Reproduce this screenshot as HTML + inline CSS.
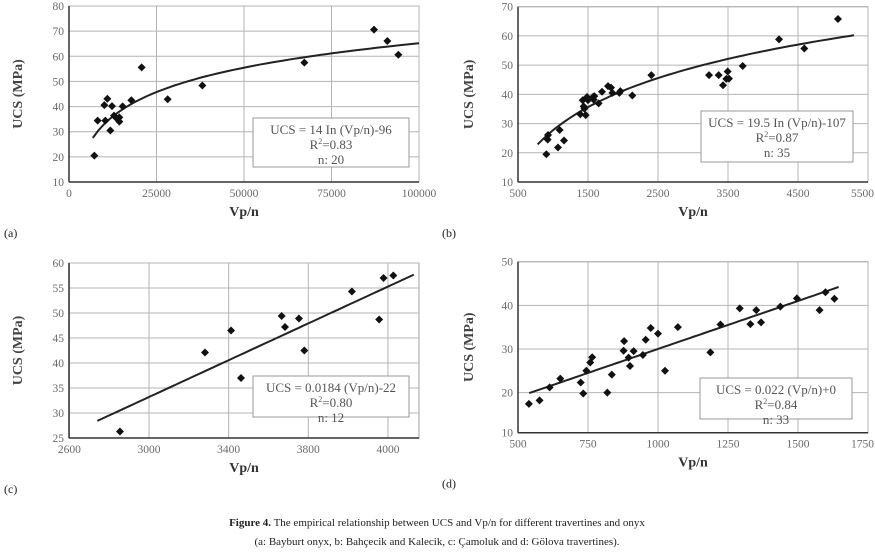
<!DOCTYPE html>
<html><head><meta charset="utf-8"><style>
body{margin:0;background:#fff;}
svg text{font-family:"Liberation Serif",serif;}
</style></head><body>
<svg id="fig" width="875" height="554" xmlns="http://www.w3.org/2000/svg"></svg>
<script>
// Panel a
const aX=[7238,8190,10381,10095,10952,12286,12857,11810,14381,14381,15333,17810,20762,28190,38095,67238,87143,90952,94095,13619];
const aY=[20.5,34.4,34.4,40.6,43.1,40.2,36.4,30.5,35.7,34.0,40.1,42.5,55.6,42.9,48.4,57.5,70.6,66.1,60.6,35.3];
const aXTicks=[0,25000,50000,75000,100000];
const aYTicks=[10,20,30,40,50,60,70,80];
const aFit=[14,-96];
// Panel b
const bX=[905,924,929,1071,1095,1157,1390,1424,1438,1448,1467,1486,1500,1571,1581,1652,1700,1786,1829,1848,1948,1962,2133,2405,3229,3367,3429,3476,3495,3514,3710,4229,4590,5071,1590];
const bY=[19.5,24.5,26.1,21.8,27.8,24.2,33.2,38.0,35.9,35.1,32.9,39.1,38.0,39.1,38.2,36.9,40.9,42.8,42.3,40.5,40.5,41.1,39.6,46.6,46.6,46.6,43.1,45.3,47.8,45.4,49.7,58.8,55.7,65.8,39.4];
const bXTicks=[500,1500,2500,3500,4500,5500];
const bYTicks=[10,20,30,40,50,60,70];
const bFit=[19.5,-107];
// Panel c
const cX=[2854,3281,3412,3462,3666,3683,3753,3780,4019,4156,4178,4227];
const cY=[26.3,42.1,46.5,37.0,49.4,47.2,48.9,42.5,54.3,48.7,57.0,57.5];
const cXTicks=[2600,3000,3400,3800,4200];
const cXLabels=["2600","3000","3400","3800","4000"];
const cYTicks=[25,30,35,40,45,50,55,60];
const cFit=[0.0184,-22];
// Panel d
const dX=[539,577,613,651,724,733,744,758,765,819,835,877,879,895,900,913,946,956,974,1000,1025,1071,1187,1223,1292,1330,1351,1368,1437,1496,1577,1598,1630];
const dY=[17.4,18.2,21.2,23.2,22.3,19.8,25.0,26.9,28.1,20.0,24.1,29.6,31.8,28.0,26.1,29.5,28.6,32.1,34.8,33.5,25.0,35.0,29.2,35.6,39.3,35.7,38.9,36.1,39.7,41.6,38.9,43.0,41.5];
const dXTicks=[500,750,1000,1250,1500,1750];
const dYTicks=[10,20,30,40,50];
const dFit=[0.022,8];

const NS="http://www.w3.org/2000/svg";
const svg=document.getElementById('fig');
function el(tag,attrs,parent,text){const e=document.createElementNS(NS,tag);for(const k in attrs)e.setAttribute(k,attrs[k]);if(text!==undefined)e.textContent=text;(parent||svg).appendChild(e);return e;}

function panel(o){
  const g=el('g',{});
  
  
  const sx=v=>o.L+(v-o.x0)/(o.x1-o.x0)*(o.R-o.L);
  const sy=v=>o.B-(v-o.y0)/(o.y1-o.y0)*(o.B-o.T);
  el('rect',{x:o.L,y:o.T,width:o.R-o.L,height:o.B-o.T,fill:'#fff',stroke:'#a0a0a0','stroke-width':1},g);
  o.xt.forEach((t,i)=>{const x=sx(t);
    const ln=el('line',{x1:x,x2:x,y1:o.T,y2:o.B,stroke:'#b4b4b4','stroke-width':1},g);
    
    
    let anchor='middle',tx0=x;
    if(x+14>875){anchor='end';tx0=874;}
    const tx=el('text',{x:tx0,y:o.B+15,'text-anchor':anchor,'font-size':11.5,fill:'#6a6a6a'},g,o.xl?o.xl[i]:String(t));
    
    });
  o.yt.forEach(t=>{const y=Math.min(sy(t),o.B);
    if(sy(t)<=o.B){const ln=el('line',{x1:o.L,x2:o.R,y1:y,y2:y,stroke:'#b4b4b4','stroke-width':1},g);
    
    }
    const tx=el('text',{x:o.L-5,y:y+4,'text-anchor':'end','font-size':11.5,fill:'#6a6a6a'},g,String(t));
    
    });
  el('line',{x1:o.L,x2:o.L,y1:o.T,y2:o.B,stroke:'#333','stroke-width':1.5},g);
  el('line',{x1:o.L,x2:o.R,y1:o.B,y2:o.B,stroke:'#333','stroke-width':1.5},g);
  let pts=[];
  for(let i=0;i<=60;i++){const v=o.f0+(o.f1-o.f0)*i/60;const y=o.log?o.fit[0]*Math.log(v)+o.fit[1]:o.fit[0]*v+o.fit[1];pts.push(sx(v).toFixed(1)+','+sy(y).toFixed(1));}
  const pl=el('polyline',{points:pts.join(' '),fill:'none',stroke:'#222','stroke-width':2},g);
  
  
  o.xs.forEach((v,i)=>{const x=sx(v),y=sy(o.ys[i]);
    const p=el('path',{d:`M${x},${y-4}L${x+4},${y}L${x},${y+4}L${x-4},${y}Z`,fill:'#111'},g);
    
    });
  const bx=el('g',{},g);
  
  
  el('rect',{x:o.bx[0],y:o.bx[1],width:o.bx[2],height:o.bx[3],fill:'#fff',stroke:'#999','stroke-width':1},bx);
  const cx=o.bx[0]+o.bx[2]/2;
  el('text',{x:cx,y:o.bx[1]+16,'text-anchor':'middle','font-size':13,fill:'#555'},bx,o.eq);
  const r=el('text',{x:cx,y:o.bx[1]+31,'text-anchor':'middle','font-size':13,fill:'#555'},bx);
  r.innerHTML='R<tspan font-size="8" dy="-5">2</tspan><tspan dy="5">='+o.r2+'</tspan>';
  el('text',{x:cx,y:o.bx[1]+46,'text-anchor':'middle','font-size':13,fill:'#555'},bx,'n: '+o.n);
  const yt=el('text',{x:o.ytx,y:(o.T+o.B)/2,'text-anchor':'middle','font-size':14,'font-weight':'bold',fill:'#444',transform:`rotate(-90 ${o.ytx} ${(o.T+o.B)/2})`},g,'UCS (MPa)');
  
  
  const xt=el('text',{x:(o.L+o.R)/2,y:o.B+34,'text-anchor':'middle','font-size':14,'font-weight':'bold',fill:'#333'},g,'Vp/n');
  
  
  const pt=el('text',{x:o.plx,y:o.B+55,'font-size':12,fill:'#222'},g,'('+o.id+')');
  
  
}
panel({id:'a',L:69,R:419,T:6,B:182,x0:0,x1:100000,y0:10,y1:80,xt:aXTicks,yt:aYTicks,xs:aX,ys:aY,fit:aFit,log:true,f0:6800,f1:100000,bx:[253,118,156,49],eq:'UCS = 14 In (Vp/n)-96',r2:'0.83',n:20,ytx:22,plx:4});
panel({id:'b',L:518,R:868,T:6.7,B:182,x0:500,x1:5500,y0:10,y1:70,xt:bXTicks,yt:bYTicks,xs:bX,ys:bY,fit:bFit,log:true,f0:780,f1:5300,bx:[701,111,152,51],eq:'UCS = 19.5 In (Vp/n)-107',r2:'0.87',n:35,ytx:473,plx:442});
panel({id:'c',L:69,R:419,T:263,B:438,x0:2598,x1:4356,y0:25,y1:60,xt:cXTicks,xl:cXLabels,yt:cYTicks,xs:cX,ys:cY,fit:cFit,log:false,f0:2740,f1:4330,bx:[253,376,156,41],eq:'UCS = 0.0184 (Vp/n)-22',r2:'0.80',n:12,ytx:22,plx:4});
panel({id:'d',L:518,R:868,T:261.7,B:432.7,x0:500,x1:1750,y0:10.8,y1:50,xt:dXTicks,yt:dYTicks,xs:dX,ys:dY,fit:dFit,log:false,f0:540,f1:1645,bx:[700,378,152,41],eq:'UCS = 0.022 (Vp/n)+0',r2:'0.84',n:33,ytx:473,plx:442});
const cap1=el('text',{x:437,y:526,'text-anchor':'middle','font-size':11,fill:'#222'});


cap1.innerHTML='<tspan font-weight="bold">Figure 4.</tspan> The empirical relationship between UCS and Vp/n for different travertines and onyx';
const cap2=el('text',{x:437,y:545,'text-anchor':'middle','font-size':11,fill:'#222'},svg,'(a: Bayburt onyx, b: Bahçecik and Kalecik, c: Çamoluk and d: Gölova travertines).');


</script>
</body></html>
